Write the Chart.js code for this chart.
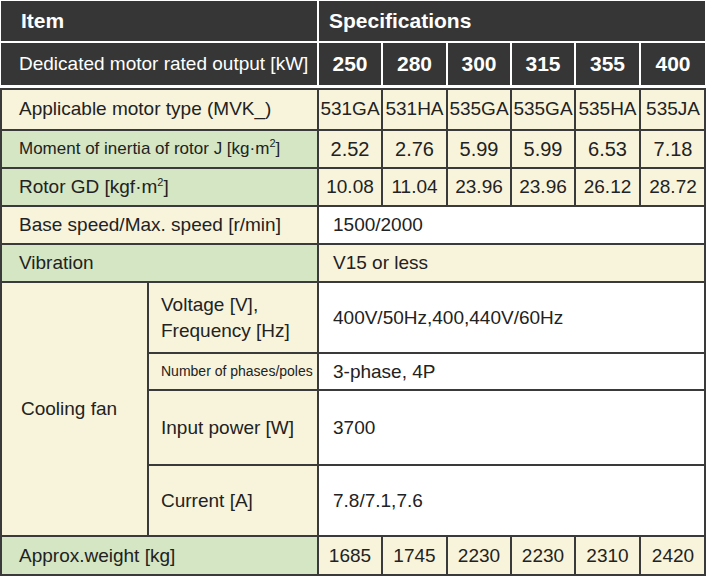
<!DOCTYPE html>
<html><head><meta charset="utf-8">
<script src="https://cdn.jsdelivr.net/npm/chart.js@4/dist/chart.umd.min.js"></script>
<style>
body{margin:0;background:#fff;font-family:"Liberation Sans",Arial,sans-serif;}
#wrap{position:relative;width:710px;height:579px;}
.c{position:absolute;box-sizing:border-box;display:flex;align-items:center;color:#222;font-size:19px;padding-left:8px;white-space:nowrap;overflow:hidden;}
.ctr{justify-content:center;padding-left:0;}
sup{font-size:11px;vertical-align:7px;line-height:0;}
#chartbox{position:absolute;left:0;top:0;width:1px;height:1px;opacity:0;}
</style></head><body>
<div id="wrap"><div id="chartbox"><canvas id="cv"></canvas></div></div>
<script>
const outputs=["250","280","300","315","355","400"];
const motorTypes=["531GA","531HA","535GA","535GA","535HA","535JA"];
const inertia=["2.52","2.76","5.99","5.99","6.53","7.18"];
const rotorGD=["10.08","11.04","23.96","23.96","26.12","28.72"];
const weights=["1685","1745","2230","2230","2310","2420"];
const sharedRows=[["Base speed/Max. speed [r/min]","1500/2000"],["Vibration","V15 or less"]];
const fanRows=[["Voltage [V],<br>Frequency [Hz]","400V/50Hz,400,440V/60Hz"],["Number of phases/poles","3-phase, 4P"],["Input power [W]","3700"],["Current [A]","7.8/7.1,7.6"]];

new Chart(document.getElementById('cv'),{type:'bar',data:{labels:outputs,datasets:[{data:weights.map(Number)}]},options:{animation:false,plugins:{legend:{display:false}}}});

const W=document.getElementById('wrap');
const DARK="#363636",CREAM="#f8f4dc",GREEN="#d4e6c4",WHITE="#ffffff",LINE="#3a3a3a";
const colX=[318,382,447,511,575,640,706];
function cell(x,y,w,h,html,bg,opt={}){
  const d=document.createElement('div');d.className='c'+(opt.ctr?' ctr':'');
  d.style.cssText+=`left:${x}px;top:${y}px;width:${w}px;height:${h}px;background:${bg};`;
  if(opt.border!==false)d.style.border=`1px solid ${opt.bc||LINE}`;
  if(opt.color)d.style.color=opt.color;
  if(opt.fs)d.style.fontSize=opt.fs+'px';
  if(opt.bold)d.style.fontWeight='bold';
  if(opt.pl!=null)d.style.paddingLeft=opt.pl+'px';
  if(opt.lh)d.style.lineHeight=opt.lh;
  d.innerHTML='<span>'+html+'</span>';W.appendChild(d);
}
cell(0,0,706,86,"",DARK,{border:false});
cell(0,0,318,42,"Item",DARK,{color:"#fff",bold:true,fs:21,bc:"#fff",pl:20});
cell(318,0,388,42,"Specifications",DARK,{color:"#fff",bold:true,fs:21,bc:"#fff",pl:10});
cell(0,42,318,44,"Dedicated motor rated output [kW]",DARK,{color:"#fff",fs:19,bc:"#fff",pl:18});
outputs.forEach((o,i)=>cell(colX[i],42,colX[i+1]-colX[i],44,o,DARK,{color:"#fff",bold:true,fs:21,ctr:true,bc:"#fff"}));
cell(0,88,706,489,"",WHITE,{border:false});
const rows=[["Applicable motor type (MVK_)",motorTypes,CREAM,88,42,19,19],
["Moment of inertia of rotor J [kg·m<sup>2</sup>]",inertia,GREEN,130,38,17,20],
["Rotor GD [kgf·m<sup>2</sup>]",rotorGD,GREEN,168,38,19,19]];
rows.forEach(r=>{cell(0,r[3],318,r[4],r[0],r[2],{fs:r[5],pl:18});
 r[1].forEach((v,i)=>cell(colX[i],r[3],colX[i+1]-colX[i],r[4],v,CREAM,{ctr:true,fs:r[6]}));});
cell(0,206,318,38,sharedRows[0][0],CREAM,{pl:18});cell(318,206,388,38,sharedRows[0][1],WHITE,{pl:14});
cell(0,244,318,38,sharedRows[1][0],GREEN,{pl:18});cell(318,244,388,38,sharedRows[1][1],CREAM,{pl:14});
cell(0,282,148,254,"Cooling fan",CREAM,{pl:20});
const fy=[282,353,390,465,536];
fanRows.forEach((r,i)=>{const h=fy[i+1]-fy[i];
 cell(148,fy[i],170,h,r[0],CREAM,{pl:12,fs:i==1?14:19,lh:'1.35'});
 cell(318,fy[i],388,h,r[1],WHITE,{pl:14});});
cell(0,536,318,40,"Approx.weight [kg]",GREEN,{pl:18});
weights.forEach((v,i)=>cell(colX[i],536,colX[i+1]-colX[i],40,v,CREAM,{ctr:true}));
const f=document.createElement('div');f.style.cssText=`position:absolute;left:0;top:88px;width:706px;height:488px;border:2px solid ${LINE};box-sizing:border-box;pointer-events:none`;W.appendChild(f);
</script></body></html>
